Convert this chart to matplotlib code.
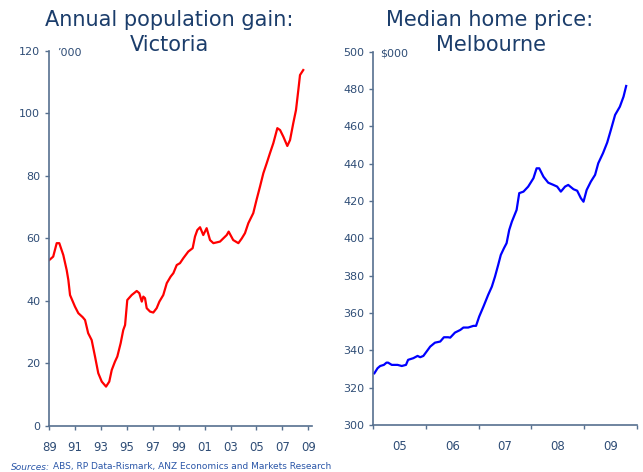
import matplotlib
matplotlib.use('Agg')
import matplotlib.pyplot as plt
from matplotlib.ticker import FixedLocator, NullFormatter

# Annual population gain, Victoria ('000)
pop_year = [1989.0, 1989.3, 1989.57, 1989.77, 1990.08, 1990.34, 1990.47, 1990.6, 1990.98, 1991.24,
            1991.58, 1991.76, 1992.0, 1992.27, 1992.53, 1992.78, 1993.05, 1993.38, 1993.63, 1993.82,
            1994.07, 1994.25, 1994.51, 1994.71, 1994.85, 1995.02, 1995.36, 1995.75, 1995.95, 1996.14,
            1996.26, 1996.39, 1996.52, 1996.78, 1997.03, 1997.29, 1997.5, 1997.8, 1998.07, 1998.37,
            1998.58, 1998.84, 1999.09, 1999.35, 1999.73, 2000.07, 2000.25, 2000.43, 2000.64, 2000.89,
            2001.15, 2001.41, 2001.67, 2002.18, 2002.7, 2002.85, 2003.2, 2003.6, 2003.86, 2004.11,
            2004.37, 2004.75, 2005.0, 2005.27, 2005.53, 2005.79, 2006.04, 2006.3, 2006.61, 2006.82,
            2007.07, 2007.38, 2007.59, 2007.84, 2008.05, 2008.23, 2008.36, 2008.61]
pop_gain = [53.1, 54.2, 58.5, 58.5, 54.7, 49.9, 46.7, 41.9, 38.2, 36.1,
            34.8, 33.9, 29.7, 27.5, 22.2, 16.9, 14.2, 12.6, 14.2, 17.9,
            20.6, 22.2, 26.5, 30.7, 32.3, 40.3, 41.9, 43.2, 42.5, 39.8,
            41.4, 40.9, 37.7, 36.6, 36.3, 37.7, 39.8, 41.9, 45.7, 47.8,
            48.9, 51.5, 52.1, 53.7, 55.8, 56.9, 60.6, 62.7, 63.6, 61.1,
            63.3, 59.5, 58.5, 59.0, 61.1, 62.2, 59.5, 58.5, 60.0, 61.7,
            64.9, 68.1, 72.3, 76.6, 80.9, 84.1, 87.3, 90.5, 95.3, 94.7,
            92.6, 89.6, 91.5, 96.9, 101.1, 107.5, 112.3, 113.9]

# Median home price, Melbourne ($000)
price_year = [2005.02, 2005.08, 2005.13, 2005.2, 2005.25, 2005.28, 2005.35, 2005.46, 2005.54, 2005.62,
              2005.66, 2005.76, 2005.84, 2005.89, 2005.95, 2006.01, 2006.08, 2006.17, 2006.27, 2006.34,
              2006.42, 2006.46, 2006.55, 2006.65, 2006.71, 2006.8, 2006.9, 2006.95, 2007.01, 2007.09,
              2007.18, 2007.25, 2007.31, 2007.37, 2007.42, 2007.48, 2007.53, 2007.58, 2007.63, 2007.72,
              2007.77, 2007.85, 2007.94, 2008.04, 2008.1, 2008.15, 2008.23, 2008.32, 2008.42, 2008.49,
              2008.56, 2008.64, 2008.7, 2008.8, 2008.87, 2008.94, 2008.99, 2009.05, 2009.13, 2009.21,
              2009.27, 2009.36, 2009.44, 2009.51, 2009.59, 2009.68, 2009.75, 2009.8]
price = [327.7, 330.4, 331.6, 332.2, 333.4, 333.4, 332.2, 332.2, 331.6, 332.2,
         334.9, 335.8, 337.0, 336.3, 337.0, 339.3, 342.0, 344.1, 344.7, 347.0,
         347.0, 346.8, 349.5, 350.9, 352.2, 352.2, 353.1, 353.1, 358.1, 363.4,
         369.7, 374.1, 379.5, 385.7, 391.1, 394.7, 397.4, 404.5, 408.9, 415.2,
         424.2, 425.0, 427.7, 432.2, 437.5, 437.5, 433.0, 429.8, 428.6, 427.7,
         425.0, 427.7, 428.6, 426.3, 425.5, 421.5, 419.6, 425.9, 430.4, 434.0,
         440.2, 445.6, 451.3, 458.1, 466.1, 470.5, 475.9, 481.6]

pop_ticks = list(range(1989, 2010, 2))
pop_labels = ['89', '91', '93', '95', '97', '99', '01', '03', '05', '07', '09']
price_years = [2005, 2006, 2007, 2008, 2009]
price_labels = ['05', '06', '07', '08', '09']

title_col = '#1b3d6b'
tick_col = '#2f4d76'
axis_col = '#56708f'

fig = plt.figure(figsize=(6.43, 4.72), dpi=100)
ax1 = fig.add_axes([0.0767, 0.0975, 0.408, 0.7945])
ax2 = fig.add_axes([0.5806, 0.0996, 0.4096, 0.791])

for ax in (ax1, ax2):
    for s in ('top', 'right'):
        ax.spines[s].set_visible(False)
    for s in ('left', 'bottom'):
        ax.spines[s].set_color(axis_col)
        ax.spines[s].set_linewidth(1.2)
    ax.tick_params(colors=axis_col, labelcolor=tick_col, labelsize=8, length=3, width=1)
    ax.tick_params(axis='x', pad=7.5, labelsize=8.5)

ax1.plot(pop_year, pop_gain, color='#ff0000', lw=1.6)
ax1.set_xlim(1989, 2009.26)
ax1.set_ylim(0, 120)
ax1.set_yticks(range(0, 121, 20))
ax1.set_xticks(pop_ticks)
ax1.set_xticklabels(pop_labels)

ax2.plot(price_year, price, color='#0000ff', lw=1.6)
ax2.set_xlim(2005, 2010)
ax2.set_ylim(300, 500)
ax2.set_yticks(range(300, 501, 20))
ax2.xaxis.set_major_locator(FixedLocator(price_years + [2010]))
ax2.xaxis.set_major_formatter(NullFormatter())
ax2.xaxis.set_minor_locator(FixedLocator([y + 0.5 for y in price_years]))
ax2.set_xticklabels(price_labels, minor=True)
ax2.tick_params(axis='x', which='minor', length=0, pad=10.5, labelsize=8.5, labelcolor=tick_col)

fig.text(57 / 643, 1 - 53 / 472, "\u2019000", color=tick_col, fontsize=8, va='center', ha='left')
fig.text(380 / 643, 1 - 54 / 472, "$000", color=tick_col, fontsize=8, va='center', ha='left')

fig.text(169 / 643, 1 - 26 / 472, "Annual population gain:", color=title_col, fontsize=15, ha='center', va='baseline')
fig.text(169 / 643, 1 - 51 / 472, "Victoria", color=title_col, fontsize=15, ha='center', va='baseline')
fig.text(490 / 643, 1 - 26 / 472, "Median home price:", color=title_col, fontsize=15, ha='center', va='baseline')
fig.text(491 / 643, 1 - 51 / 472, "Melbourne", color=title_col, fontsize=15, ha='center', va='baseline')

src = fig.text(11 / 643, 1 - 467 / 472, "Sources:", color='#2a56a8', fontsize=6.5, style='italic', va='center', ha='left')
fig.canvas.draw()
bb = src.get_window_extent()
fig.text((bb.x1 + 3) / 643, 1 - 467 / 472, "ABS, RP Data-Rismark, ANZ Economics and Markets Research",
         color='#2a56a8', fontsize=6.5, va='center', ha='left')

fig.savefig('out.png', dpi=100)
